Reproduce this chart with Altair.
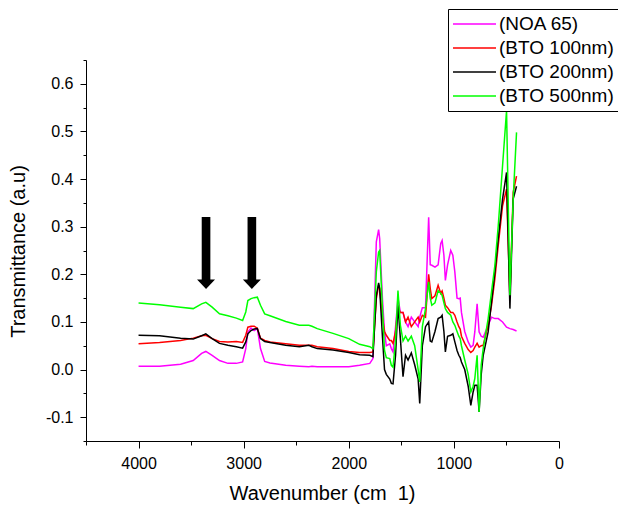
import altair as alt
import pandas as pd

# Wavenumber grid (cm-1) and transmittance
wn = [4000, 3800, 3600, 3480, 3400, 3360, 3300, 3230, 3150, 3070, 3010, 2980, 2960, 2930,
      2900, 2870, 2840, 2800, 2750, 2600, 2470, 2380, 2350, 2300, 2150, 2000, 1897, 1800,
      1770, 1738, 1716, 1706, 1680, 1660, 1643, 1610, 1595, 1579, 1555, 1532, 1509, 1484,
      1460, 1436, 1405, 1373, 1340, 1325, 1300, 1270, 1240, 1225, 1210, 1180, 1150, 1125,
      1112, 1095, 1081, 1060, 1030, 1010, 991, 970, 953, 940, 928, 897, 864, 839, 817, 801,
      779, 760, 740, 721, 674, 642, 610, 578, 537, 499, 467, 436, 404]

noa65 = [0.007, 0.007, 0.011, 0.019, 0.034, 0.038, 0.030, 0.019, 0.013, 0.013, 0.016, 0.044,
         0.079, 0.087, 0.082, 0.086, 0.044, 0.017, 0.014, 0.009, 0.007, 0.006, 0.007, 0.006,
         0.006, 0.006, 0.009, 0.013, 0.023, 0.268, 0.294, 0.275, 0.150, 0.080, 0.050, 0.054,
         0.044, 0.037, 0.090, 0.150, 0.120, 0.120, 0.100, 0.090, 0.110, 0.100, 0.090, 0.110,
         0.130, 0.130, 0.320, 0.220, 0.219, 0.215, 0.220, 0.265, 0.271, 0.240, 0.187, 0.220,
         0.250, 0.240, 0.205, 0.150, 0.149, 0.150, 0.120, 0.080, 0.058, 0.047, 0.051, 0.079,
         0.138, 0.079, 0.070, 0.068, 0.093, 0.110, 0.107, 0.107, 0.100, 0.089, 0.086, 0.084,
         0.081]

bto100 = [0.054, 0.057, 0.061, 0.066, 0.071, 0.072, 0.065, 0.059, 0.058, 0.059, 0.057, 0.072,
          0.089, 0.091, 0.091, 0.087, 0.066, 0.061, 0.058, 0.054, 0.051, 0.051, 0.051, 0.048,
          0.044, 0.038, 0.036, 0.036, 0.037, 0.149, 0.177, 0.170, 0.110, 0.080, 0.072, 0.061,
          0.061, 0.055, 0.080, 0.130, 0.120, 0.120, 0.100, 0.110, 0.090, 0.100, 0.110, 0.100,
          0.114, 0.110, 0.200, 0.170, 0.149, 0.155, 0.177, 0.160, 0.165, 0.150, 0.135, 0.130,
          0.120, 0.120, 0.114, 0.100, 0.090, 0.085, 0.070, 0.055, 0.042, 0.036, 0.040, 0.047,
          0.055, 0.047, 0.050, 0.051, 0.093, 0.135, 0.191, 0.261, 0.344, 0.379, 0.149, 0.372,
          0.406]

bto200 = [0.072, 0.071, 0.066, 0.064, 0.071, 0.075, 0.065, 0.055, 0.051, 0.048, 0.045, 0.058,
          0.075, 0.082, 0.085, 0.086, 0.065, 0.059, 0.057, 0.051, 0.048, 0.051, 0.048, 0.044,
          0.041, 0.036, 0.031, 0.030, 0.027, 0.156, 0.182, 0.170, 0.070, 0.000, -0.010, -0.020,
          -0.029, -0.030, 0.030, 0.135, 0.065, -0.015, 0.030, 0.020, 0.035, 0.010, -0.020, -0.071,
          0.050, 0.090, 0.100, 0.060, 0.058, 0.080, 0.107, 0.110, 0.114, 0.080, 0.037, 0.070,
          0.072, 0.075, 0.058, 0.040, 0.030, 0.025, 0.016, 0.000, -0.035, -0.075, -0.047, -0.033,
          -0.033, -0.089, -0.010, 0.030, 0.079, 0.142, 0.205, 0.275, 0.358, 0.414, 0.128, 0.358,
          0.385]

bto500 = [0.140, 0.136, 0.131, 0.128, 0.138, 0.141, 0.131, 0.117, 0.113, 0.108, 0.103, 0.121,
          0.145, 0.149, 0.151, 0.152, 0.135, 0.117, 0.113, 0.101, 0.093, 0.093, 0.091, 0.086,
          0.076, 0.065, 0.053, 0.048, 0.044, 0.205, 0.247, 0.250, 0.130, 0.040, 0.025, 0.023,
          0.009, 0.005, 0.060, 0.166, 0.093, 0.060, 0.070, 0.060, 0.070, 0.050, 0.000, -0.026,
          0.090, 0.128, 0.184, 0.150, 0.135, 0.140, 0.166, 0.160, 0.156, 0.140, 0.128, 0.120,
          0.114, 0.100, 0.093, 0.080, 0.070, 0.065, 0.050, 0.020, -0.010, -0.047, -0.035, -0.019,
          0.030, -0.089, 0.010, 0.044, 0.107, 0.163, 0.219, 0.302, 0.428, 0.544, 0.156, 0.358,
          0.498]

series_names = ["(NOA 65)", "(BTO 100nm)", "(BTO 200nm)", "(BTO 500nm)"]
series_colors = ["#FF00FF", "#FF0000", "#000000", "#00FF00"]

# Arrows marking the peaks
arrow_wn = [3358, 2922]
arrow_y = [0.245, 0.245]

x_major = [4000, 3000, 2000, 1000, 0]
x_minor = [4500, 3500, 2500, 1500, 500]
y_major = [-0.1, 0.0, 0.1, 0.2, 0.3, 0.4, 0.5, 0.6]
y_minor = [-0.15, -0.05, 0.05, 0.15, 0.25, 0.35, 0.45, 0.55, 0.65]

rows = []
for name, vals in zip(series_names, [noa65, bto100, bto200, bto500]):
    for i, (w, v) in enumerate(zip(wn, vals)):
        rows.append({"wn": w, "T": v, "sample": name, "idx": i})
df = pd.DataFrame(rows)
arrows = pd.DataFrame({"wn": arrow_wn, "T": arrow_y})

FONT = "Liberation Sans"

x_scale = alt.Scale(domain=[0, 4500], reverse=True, nice=False, zero=False)
y_scale = alt.Scale(domain=[-0.15, 0.65], nice=False, zero=False)

x_axis = alt.Axis(
    orient="bottom",
    title="Wavenumber (cm\u00a0\u00a01)",
    values=x_major,
    format="d",
    tickSize=7,
    labelPadding=7,
    labelFlush=False,
    labelOverlap=False,
    titleX=236, titleY=52, titleBaseline="middle", titleAlign="center",
    grid=False,
)
y_axis = alt.Axis(
    orient="left",
    title="Transmittance (a.u)",
    values=y_major,
    labelExpr="(datum.value < -0.001 ? '-' : '') + format(abs(datum.value), '.1f')",
    tickSize=6,
    labelPadding=7,
    labelFlush=False,
    labelOverlap=False,
    titleX=-68, titleY=191, titleBaseline="middle", titleAlign="center", titleAngle=270,
    grid=False,
)
x_minor_axis = alt.Axis(
    orient="bottom", title=None, values=x_minor, tickSize=4, labels=False,
    domain=False, grid=False,
)
y_minor_axis = alt.Axis(
    orient="left", title=None, values=y_minor, tickSize=3, labels=False,
    domain=False, grid=False,
)

lines = alt.Chart(df).mark_line(strokeWidth=1.5).encode(
    x=alt.X("wn:Q", scale=x_scale, axis=x_axis),
    y=alt.Y("T:Q", scale=y_scale, axis=y_axis),
    color=alt.Color(
        "sample:N",
        scale=alt.Scale(domain=series_names, range=series_colors),
        sort=series_names,
        legend=alt.Legend(
            title=None,
            orient="none",
            legendX=362,
            legendY=-51,
            strokeColor="black",
            fillColor="white",
            padding=5,
            symbolType="stroke",
            symbolSize=2025,
            symbolStrokeWidth=1.5,
            symbolOffset=-3,
            clipHeight=20,
            rowPadding=4,
            labelFont=FONT,
            labelFontSize=19,
            labelColor="black",
            labelOffset=2,
            labelLimit=300,
        ),
    ),
    order=alt.Order("idx:Q"),
)

arrow_path = "M-0.12,-1L0.12,-1L0.12,0.74L0.25,0.74L0,1L-0.25,0.74L-0.12,0.74Z"
arrow_layer = alt.Chart(arrows).mark_point(
    shape=arrow_path, filled=True, size=5184, color="black", opacity=1, strokeWidth=0
).encode(
    x=alt.X("wn:Q", scale=x_scale, axis=x_minor_axis),
    y=alt.Y("T:Q", scale=y_scale, axis=y_minor_axis),
)

chart = alt.layer(lines, arrow_layer).resolve_axis(
    x="independent", y="independent"
).properties(
    width=473,
    height=381,
    autosize=alt.AutoSizeParams(type="none"),
    padding={"left": 78, "top": 52, "right": 59, "bottom": 64},
).configure_view(stroke=None).configure_axis(
    domainColor="black",
    domainWidth=1,
    tickColor="black",
    tickWidth=1,
    labelColor="black",
    labelFont=FONT,
    labelFontSize=16,
    titleColor="black",
    titleFont=FONT,
    titleFontSize=20,
    titleFontWeight="normal",
)

chart.save("out.html", embed_options={"renderer": "svg", "actions": False})
